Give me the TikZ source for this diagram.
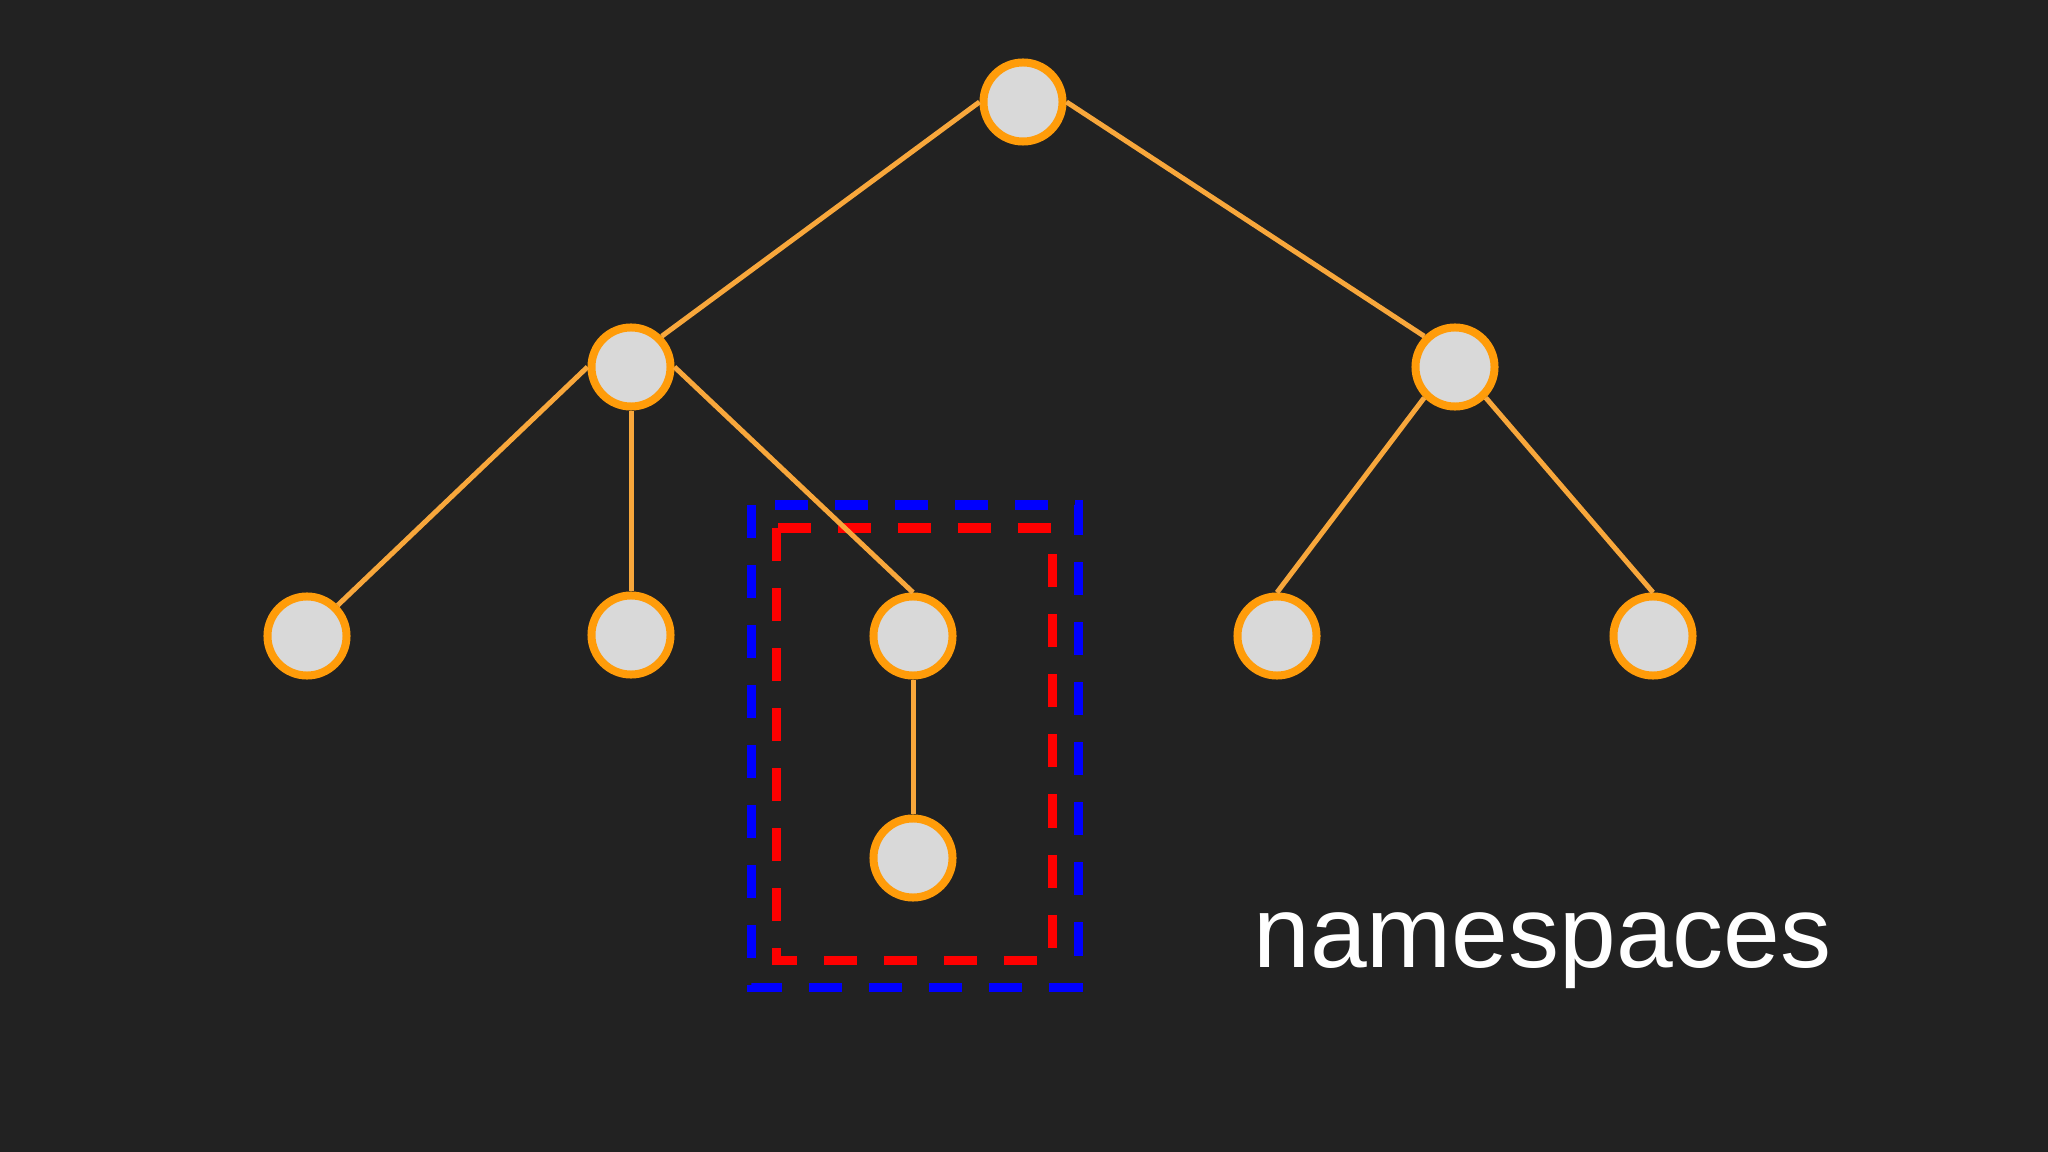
\documentclass[tikz,border=0pt]{standalone}
\usepackage{fontspec}
\setmainfont{Liberation Sans}
\definecolor{bgcol}{HTML}{222222}
\definecolor{ringcol}{HTML}{FF9C0A}
\definecolor{edgecol}{HTML}{F8A73B}
\definecolor{fillcol}{HTML}{D9D9D9}
\definecolor{boxblue}{HTML}{0000FF}
\definecolor{boxred}{HTML}{FF0000}

\begin{document}
\begin{tikzpicture}[x=0.01cm, y=-0.01cm, thick]
		
		% Styles
		\tikzstyle{vertex} = [circle, draw=ringcol, fill=fillcol, line width=0.08cm, minimum size=0.79cm, inner sep=0pt];
		\tikzstyle{link} = [draw=edgecol, line width=0.05cm];
		\tikzstyle{frame} = [line width=0.09cm, dash pattern=on 0.33cm off 0.27cm];
		
		% Background
		\fill[bgcol] (0,0) rectangle (2048,1152);
		
		% Frames
		\draw[frame, boxblue] (751,505) rectangle (1078,987);
		\draw[frame, boxred] (776,528) rectangle (1052,960);
		
		% Nodes
		\node[vertex] (root) at (1023,102) {};
		\node[vertex] (left) at (631,367) {};
		\node[vertex] (right) at (1455,367) {};
		\node[vertex] (leftA) at (307,636) {};
		\node[vertex] (leftB) at (631,635) {};
		\node[vertex] (leftC) at (913,636) {};
		\node[vertex] (rightA) at (1277,636) {};
		\node[vertex] (rightB) at (1653,636) {};
		\node[vertex] (leaf) at (913,858) {};
		
		\node[anchor=base west, text=white, inner sep=0pt, font=\fontsize{29pt}{34pt}\selectfont] (label) at (1252,967) {namespaces};
		
		% Edges
		\draw[link] (root.west) -- (left.north east);
		\draw[link] (root.east) -- (right.north west);
		\draw[link] (left.west) -- (leftA.north east);
		\draw[link] (left.south) -- (leftB.north);
		\draw[link] (left.east) -- (leftC.north);
		\draw[link] (right.south west) -- (rightA.north);
		\draw[link] (right.south east) -- (rightB.north);
		\draw[link] (leftC.south) -- (leaf.north);
		
	\end{tikzpicture}
\end{document}
